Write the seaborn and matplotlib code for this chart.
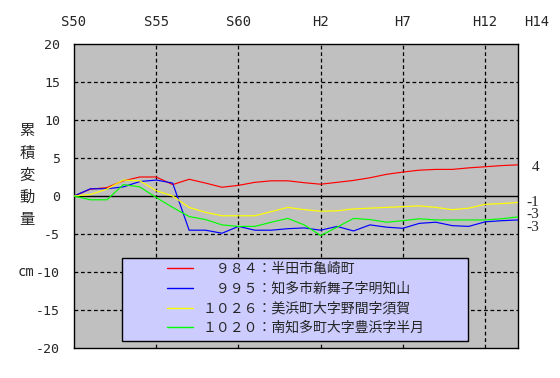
import numpy as np
import pandas as pd
import seaborn as sns
import matplotlib
matplotlib.use("Agg")
import matplotlib.pyplot as plt
from matplotlib.patches import Rectangle
from matplotlib.transforms import ScaledTranslation

# ---- data ----
years = list(range(1975, 2003))
s984 = [0, 0.9, 1.1, 2.0, 2.5, 2.5, 1.5, 2.2, 1.7, 1.15, 1.4, 1.8, 2.0, 2.0,
        1.75, 1.55, 1.8, 2.05, 2.4, 2.85, 3.15, 3.4, 3.5, 3.5, 3.7, 3.85, 4.0, 4.1]
s995 = [0, 0.95, 0.95, 1.2, 1.9, 2.1, 1.7, -4.5, -4.5, -4.9, -4.0, -4.5, -4.5, -4.3,
        -4.2, -4.5, -4.0, -4.6, -3.8, -4.1, -4.25, -3.6, -3.45, -3.9, -4.0, -3.4, -3.25, -3.15]
s1026 = [0, 0.2, 0.9, 2.1, 2.0, 0.7, 0.0, -1.5, -2.15, -2.6, -2.6, -2.6, -2.05, -1.5,
         -1.8, -2.0, -1.95, -1.7, -1.6, -1.5, -1.4, -1.3, -1.5, -1.8, -1.6, -1.1, -1.0, -0.85]
s1020 = [0, -0.5, -0.5, 1.5, 1.2, -0.2, -1.5, -2.7, -3.1, -3.8, -4.0, -4.0, -3.45, -2.95,
         -3.8, -5.2, -4.1, -2.95, -3.1, -3.45, -3.25, -3.0, -3.15, -3.15, -3.15, -3.15, -3.0, -2.75]

labels = ["　９８４：半田市亀崎町",
          "　９９５：知多市新舞子字明知山",
          "１０２６：美浜町大字野間字須賀",
          "１０２０：南知多町大字豊浜字半月"]
colors = ["#FF0000", "#0000FF", "#FFFF00", "#00FF00"]
series = [s984, s995, s1026, s1020]

xtick_years = [1975, 1980, 1985, 1990, 1995, 2000, 2002]
xtick_labels = ["S50", "S55", "S60", "H2", "H7", "H12", "H14"]
yticks = list(range(-20, 25, 5))
ylabel_chars = ["累", "積", "変", "動", "量"]

df = pd.concat([pd.DataFrame({"year": years, "value": v, "station": lab})
                for v, lab in zip(series, labels)], ignore_index=True)

# ---- figure ----
sns.set_style("white")
plt.rcParams['font.family'] = ['Noto Sans CJK JP', 'DejaVu Sans']
mono = "DejaVu Sans Mono"

W, H = 560, 378
fig = plt.figure(figsize=(W / 100, H / 100), dpi=100)
L, R, T, B = 74, 518, 44, 348
ax = fig.add_axes([L / W, (H - B) / H, (R - L) / W, (B - T) / H])
ax.set_facecolor("#C0C0C0")

# grid
for yv in yticks:
    if yv in (-20, 20):
        continue
    if yv == 0:
        ax.axhline(0, color="black", lw=1.0, zorder=1)
    else:
        ax.axhline(yv, color="black", lw=0.9, ls=(0, (3, 2.2)), zorder=1)
for xv in xtick_years[1:-1]:
    ax.axvline(xv, color="black", lw=0.9, ls=(0, (3, 2.2)), zorder=1)

sns.lineplot(data=df, x="year", y="value", hue="station", hue_order=labels,
             palette=dict(zip(labels, colors)), lw=0.85, ax=ax, legend=True,
             errorbar=None, zorder=3)

ax.set_xlim(1975, 2002)
ax.set_ylim(-20, 20)
ax.set_xlabel("")
ax.set_ylabel("")

# x ticks on top
ax.xaxis.tick_top()
ax.set_xticks(xtick_years)
ax.set_xticklabels(xtick_labels, fontfamily=mono, fontsize=10)
ax.tick_params(axis="x", length=0, pad=11)
tl = ax.get_xticklabels()[-1]
tl.set_transform(tl.get_transform() + ScaledTranslation(19 / 100, 0, fig.dpi_scale_trans))

ax.set_yticks(yticks)
ax.set_yticklabels([str(v) for v in yticks], fontfamily=mono, fontsize=9.5)
ax.tick_params(axis="y", length=0, pad=10)

for sp in ax.spines.values():
    sp.set_color("black")
    sp.set_linewidth(1.0)

# legend box
rx0 = (122 - L) / (R - L)
ry0 = (B - 341) / (B - T)
rw = (468 - 122) / (R - L)
rh = (341 - 258) / (B - T)
ax.add_patch(Rectangle((rx0, ry0), rw, rh, transform=ax.transAxes,
                       facecolor="#CCCCFF", edgecolor="black", lw=1.0, zorder=5))
handles, labs = ax.get_legend_handles_labels()
leg = ax.legend(handles, labs, loc="upper left",
                bbox_to_anchor=((167 - L) / (R - L), (B - 262) / (B - T)),
                frameon=False, fontsize=10, handlelength=1.9, handletextpad=0.65,
                borderpad=0, borderaxespad=0, labelspacing=0.41)
leg.set_zorder(6)
for ln in leg.get_lines():
    ln.set_linewidth(1.0)

# end value labels
end_y = [3.7, -0.9, -2.45, -4.2]
end_x = [1.03, 1.018, 1.018, 1.018]
for v, ey, ex in zip([s984, s1026, s1020, s995], end_y, end_x):
    ax.text(ex, ey, f"{int(round(v[-1]))}", transform=ax.get_yaxis_transform(),
            fontfamily="Liberation Serif", fontsize=11, va="center", ha="left")

# y label
for i, ch in enumerate(ylabel_chars):
    fig.text(27 / W, 1 - (131 + 22 * i) / H, ch, fontsize=11, ha="center", va="center")
fig.text(26 / W, 1 - 272 / H, "cm", fontfamily=mono, fontsize=10, ha="center", va="center")

fig.savefig("out.png", dpi=100, facecolor="white")
